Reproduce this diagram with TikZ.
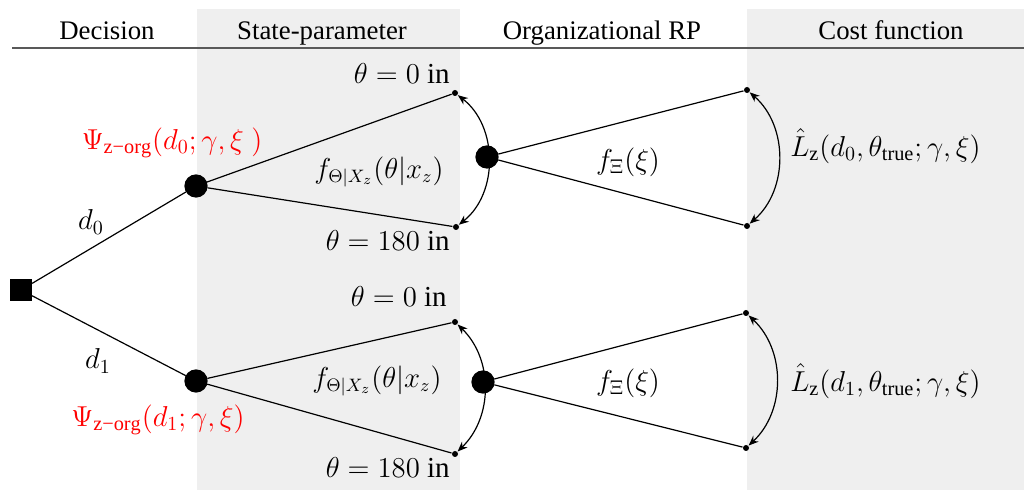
\documentclass[tikz,border=0pt]{standalone}
\usepackage{amsmath,amssymb}
\usepackage{fontspec}
\setmainfont{Liberation Serif}
\usetikzlibrary{arrows.meta,calc,positioning}
\definecolor{bandgray}{RGB}{239,239,239}
\newcommand{\Psiorg}{\Psi_{\mathrm{z\text{−}org}}}

\begin{document}
\begin{tikzpicture}[x=0.5pt,y=-0.5pt,>={Stealth[length=5pt,width=4pt]},line width=0.6pt,
  head/.style={anchor=base,font=\fontsize{13.4}{15}\selectfont},
  lab/.style={font=\fontsize{14.5}{17}\selectfont},
  dens/.style={font=\fontsize{13.5}{16}\selectfont},
  decbox/.style={draw,fill,rectangle,minimum size=10.5pt,inner sep=0pt},
  chance/.style={draw,fill,circle,minimum size=11pt,inner sep=0pt},
  tip/.style={fill,circle,minimum size=3pt,inner sep=0pt}]
\useasboundingbox (0,0) rectangle (1024,490);
\fill[bandgray] (197,9) rectangle (460,490); \fill[bandgray] (747,9) rectangle (1024,490);
\draw[gray!70!black,line width=0.8pt] (12,48)--(1024,48);
\node[head] (hdec) at (107,40) {Decision}; \node[head] (hstate) at (322,40) {State-parameter};
\node[head] (hrp) at (602,40) {Organizational RP}; \node[head] (hcost) at (891,40) {Cost function};
% decision and chance nodes
\node[decbox] (dec) at (21,290) {};
\node[chance] (s0) at (196,186) {}; \node[chance] (s1) at (196,381) {};
\node[tip] (s0a) at (455,93) {}; \node[tip] (s0b) at (456,227) {};
\node[tip] (s1a) at (455,322) {}; \node[tip] (s1b) at (455,454) {};
\node[chance] (r0) at (487,157) {}; \node[chance] (r1) at (483,382) {};
\node[tip] (c0a) at (747,90) {}; \node[tip] (c0b) at (747,226) {};
\node[tip] (c1a) at (746,313) {}; \node[tip] (c1b) at (746,448) {};
\draw (dec)--(s0); \draw (dec)--(s1);
\draw (s0)--(s0a); \draw (s0)--(s0b); \draw (s1)--(s1a); \draw (s1)--(s1b);
\draw (r0)--(c0a); \draw (r0)--(c0b); \draw (r1)--(c1a); \draw (r1)--(c1b);
\draw[<->] (s0a) to[bend left=52] (s0b); \draw[<->] (s1a) to[bend left=46] (s1b);
\draw[<->] (c0a) to[bend left=49] (c0b); \draw[<->] (c1a) to[bend left=47] (c1b);
% labels
\node[lab] (d0) at (91,222) {$d_0$}; \node[lab] (d1) at (98,361) {$d_1$};
\node[lab,text=red] (psi0) at (172,143) {$\Psiorg(d_0;\gamma,\xi\ )$};
\node[lab,text=red] (psi1) at (158,420) {$\Psiorg(d_1;\gamma,\xi)$};
\node[lab,anchor=east] (th0a) at (457,74) {$\theta=0\ \mathrm{in}$};
\node[lab,anchor=east] (th0b) at (457,241) {$\theta=180\ \mathrm{in}$};
\node[lab,anchor=east] (th1a) at (454,297) {$\theta=0\ \mathrm{in}$};
\node[lab,anchor=east] (th1b) at (457,468) {$\theta=180\ \mathrm{in}$};
\node[dens] (f0) at (379,172) {$f_{\Theta|X_z}(\theta|x_z)$};
\node[dens] (f1) at (377,381) {$f_{\Theta|X_z}(\theta|x_z)$};
\node[lab] (g0) at (628,162) {$f_{\Xi}(\xi)$}; \node[lab] (g1) at (628,383) {$f_{\Xi}(\xi)$};
\node[lab,anchor=west] (l0) at (783,146) {$\hat{L}_{\mathrm{z}}(d_0,\theta_{\mathrm{true}};\gamma,\xi)$};
\node[lab,anchor=west] (l1) at (783,381) {$\hat{L}_{\mathrm{z}}(d_1,\theta_{\mathrm{true}};\gamma,\xi)$};
\end{tikzpicture}
\end{document}
